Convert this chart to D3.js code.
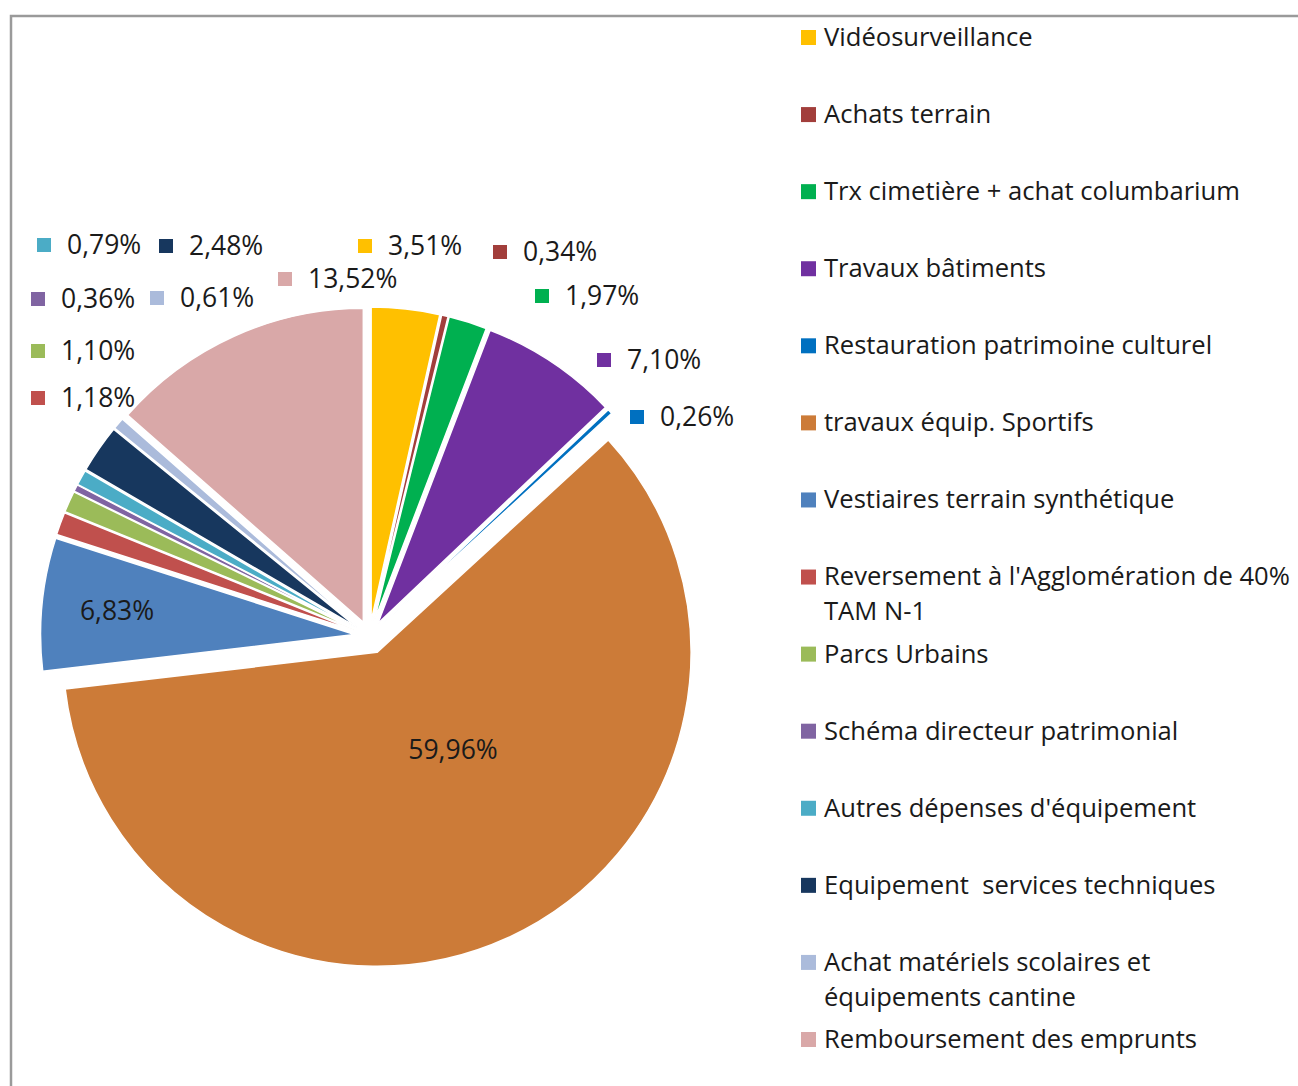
<!DOCTYPE html>
<html><head><meta charset="utf-8">
<script src="https://cdn.jsdelivr.net/npm/d3@7"></script>
<style>body{margin:0;background:#fff}svg text{font-family:"Open Sans",sans-serif;fill:#1a1a1a}</style>
</head><body>
<svg id="c" width="1298" height="1086"></svg>
<script>
const categories = ["Vidéosurveillance","Achats terrain","Trx cimetière + achat columbarium","Travaux bâtiments","Restauration patrimoine culturel","travaux équip. Sportifs","Vestiaires terrain synthétique","Reversement à l'Agglomération de 40% TAM N-1","Parcs Urbains","Schéma directeur patrimonial","Autres dépenses d'équipement","Equipement  services techniques","Achat matériels scolaires et équipements cantine","Remboursement des emprunts"];
const legendLines = [["Vidéosurveillance"],["Achats terrain"],["Trx cimetière + achat columbarium"],["Travaux bâtiments"],["Restauration patrimoine culturel"],["travaux équip. Sportifs"],["Vestiaires terrain synthétique"],["Reversement à l'Agglomération de 40%","TAM N-1"],["Parcs Urbains"],["Schéma directeur patrimonial"],["Autres dépenses d'équipement"],["Equipement\u00a0 services techniques"],["Achat matériels scolaires et","équipements cantine"],["Remboursement des emprunts"]];
const values = [3.51,0.34,1.97,7.10,0.26,59.96,6.83,1.18,1.10,0.36,0.79,2.48,0.61,13.52];
const valueLabels = ["3,51%","0,34%","1,97%","7,10%","0,26%","59,96%","6,83%","1,18%","1,10%","0,36%","0,79%","2,48%","0,61%","13,52%"];
const colors = ["#FFC000","#A23E3B","#00B050","#7030A0","#0070C0","#CC7B38","#4F81BD","#C0504D","#9BBB59","#8064A2","#4BACC6","#17375E","#ABBBDB","#D9A8A8"];

// layout (manually placed data labels, as in the original): [keyX, centerY, hasKey]
const labelLayout = [[358,246,1],[493,252,1],[535,296,1],[597,360,1],[630,417,1],[453,750,0],[117,611,0],[31,398,1],[31,351,1],[31,299,1],[37,245,1],[159,246,1],[150,298,1],[278,279,1]];
const explode = [15,15,15,15,15,18,15,15,15,15,15,15,15,15];

const svg = d3.select("#c");
// frame
svg.append("path").attr("d","M11,1086 V16 H1298").attr("fill","none").attr("stroke","#9a9a9a").attr("stroke-width",2.5);

const cx = 369.5, cy = 636, R = 314;
const pie = d3.pie().sort(null).value(d=>d)(values);
const arc = d3.arc().innerRadius(0).outerRadius(R);
const g = svg.append("g").attr("transform",`translate(${cx},${cy})`);
g.selectAll("path").data(pie).join("path")
  .attr("d",arc)
  .attr("fill",(d,i)=>colors[i])
  .attr("stroke","#fff").attr("stroke-width",1.5).attr("stroke-linejoin","round")
  .attr("transform",(d,i)=>{const a=(d.startAngle+d.endAngle)/2;return `translate(${explode[i]*Math.sin(a)},${-explode[i]*Math.cos(a)})`;});

// data labels
const LFS = 26.5, GFS = 25.6;
const lab = svg.append("g");
labelLayout.forEach((p,i)=>{
  if(p[2]){
    lab.append("rect").attr("x",p[0]).attr("y",p[1]-7).attr("width",14).attr("height",14).attr("fill",colors[i]);
    lab.append("text").attr("x",p[0]+30).attr("y",p[1]).attr("dy","0.35em").attr("font-size",LFS).text(valueLabels[i]);
  } else {
    lab.append("text").attr("x",p[0]).attr("y",p[1]).attr("dy","0.35em").attr("text-anchor","middle").attr("font-size",LFS).text(valueLabels[i]);
  }
});

// legend
const ly = d3.scalePoint().domain(d3.range(categories.length)).range([37,1039]);
const leg = svg.append("g");
categories.forEach((c,i)=>{
  const y = ly(i);
  leg.append("rect").attr("x",801).attr("y",y-7).attr("width",15).attr("height",15).attr("fill",colors[i]);
  legendLines[i].forEach((t,j)=>{
    leg.append("text").attr("x",824).attr("y",y+j*35).attr("dy","0.35em").attr("font-size",GFS).text(t);
  });
});
</script>
</body></html>
